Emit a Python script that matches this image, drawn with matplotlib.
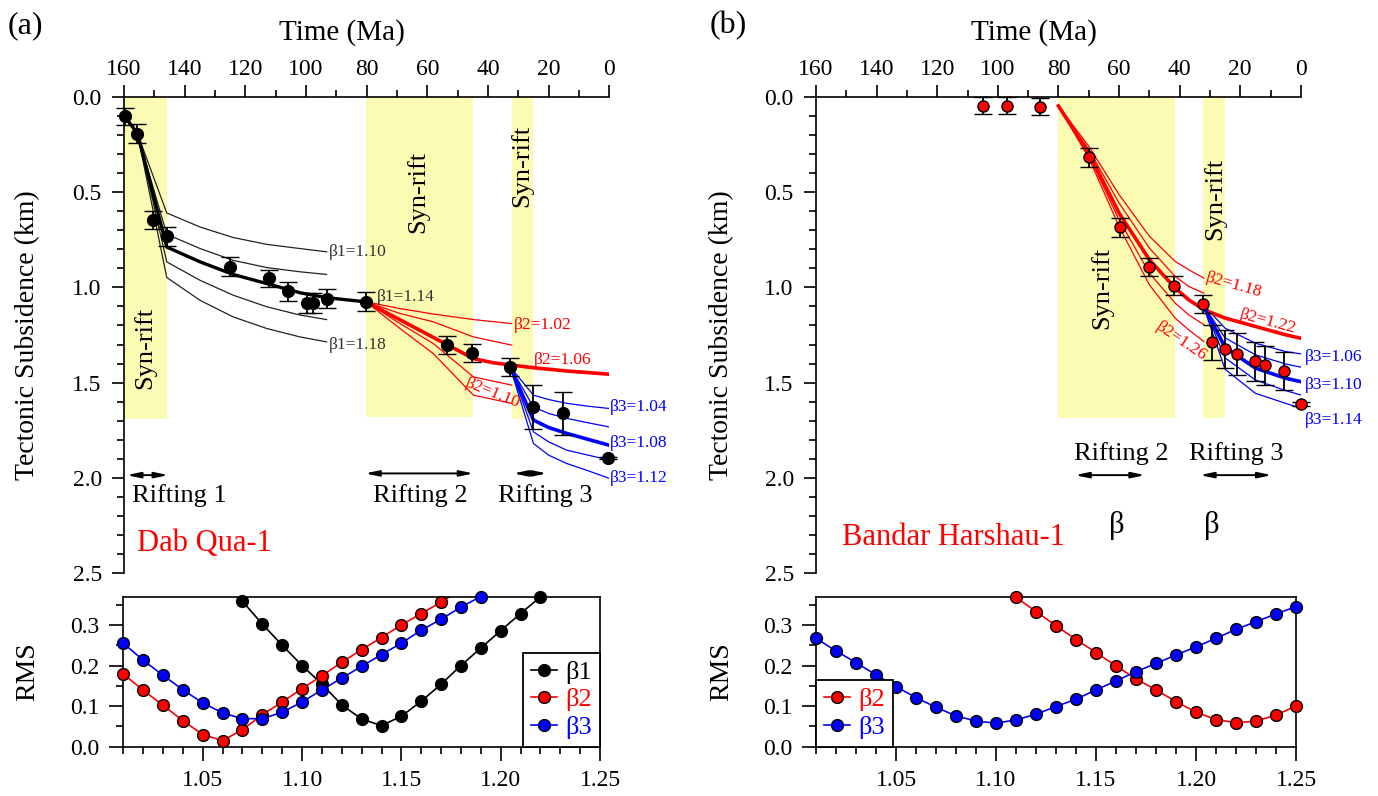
import matplotlib
matplotlib.use('Agg')
import matplotlib.pyplot as plt
from matplotlib.ticker import MultipleLocator, FormatStrFormatter
import numpy as np

plt.rcParams['font.family'] = ['Liberation Serif', 'DejaVu Serif']

W, H = 1378, 796
fig = plt.figure(figsize=(W / 100, H / 100), dpi=100)


def rect(l, r, t, b):
    return [l / W, 1 - b / H, (r - l) / W, (b - t) / H]


YEL = '#FBFBB4'
RED = '#FF0000'
BLUE = '#0000FF'
GREY = '#333333'

# ------------------------------------------------------------------ data (a)
a_obs_t = [159.8, 155.6, 150.3, 145.9, 125.1, 112.1, 106.0, 99.8, 97.6, 93.2, 80.2,
           53.6, 45.4, 32.7, 25.0, 15.2, 0.3]
a_obs_d = [0.102, 0.193, 0.647, 0.731, 0.892, 0.953, 1.021, 1.081, 1.081, 1.059, 1.076,
           1.303, 1.344, 1.417, 1.628, 1.662, 1.898]
a_obs_e = [0.045, 0.05, 0.048, 0.05, 0.05, 0.045, 0.048, 0.052, 0.052, 0.048, 0.05,
           0.048, 0.048, 0.048, 0.117, 0.115, 0.005]

a_b1_t = [159.8, 155.6, 145.9, 134.9, 124.0, 112.9, 102.0, 93.2]
a_b1_110 = [0.102, 0.19, 0.609, 0.683, 0.738, 0.774, 0.796, 0.813]
a_b1_112 = [0.102, 0.19, 0.721, 0.796, 0.858, 0.896, 0.918, 0.932]
a_b1_116 = [0.102, 0.19, 0.866, 0.963, 1.041, 1.102, 1.145, 1.169]
a_b1_118 = [0.102, 0.19, 0.948, 1.068, 1.155, 1.216, 1.260, 1.286]
a_b1_best_t = [159.8, 155.6, 145.9, 134.9, 124.0, 112.9, 102.0, 93.2, 80.2]
a_b1_114 = [0.102, 0.19, 0.788, 0.866, 0.932, 0.980, 1.028, 1.054, 1.076]

a_b2_t = [80.2, 69.0, 58.0, 44.8, 32.2]
a_b2_102 = [1.076, 1.111, 1.140, 1.169, 1.190]
a_b2_104 = [1.076, 1.137, 1.181, 1.260, 1.303]
a_b2_108 = [1.076, 1.190, 1.295, 1.470, 1.513]
a_b2_110 = [1.076, 1.216, 1.348, 1.566, 1.609]
a_b2_best_t = [80.2, 69.0, 58.0, 52.5, 44.8, 38.2, 32.2, 25.0, 14.0, 0.0]
a_b2_106 = [1.076, 1.170, 1.263, 1.309, 1.374, 1.396, 1.408, 1.422, 1.439, 1.456]

a_b3_t = [32.7, 25.0, 20.0, 14.0, 7.0, 0.0]
a_b3_104 = [1.417, 1.566, 1.589, 1.609, 1.624, 1.636]
a_b3_106 = [1.417, 1.628, 1.662, 1.688, 1.711, 1.733]
a_b3_108 = [1.417, 1.697, 1.736, 1.767, 1.798, 1.829]
a_b3_110 = [1.417, 1.759, 1.811, 1.855, 1.881, 1.907]
a_b3_112 = [1.417, 1.820, 1.881, 1.925, 1.963, 2.003]

a_syn_start = [160.0, 80.2, 32.2]
a_syn_end = [145.9, 44.8, 25.0]
a_syn_bottom = [1.69, 1.68, 1.69]

# RMS (a)
a_rms_x1 = [1.07, 1.08, 1.09, 1.10, 1.11, 1.12, 1.13, 1.14, 1.15, 1.16, 1.17, 1.18,
            1.19, 1.20, 1.21, 1.22]
a_rms_b1 = [0.358, 0.302, 0.250, 0.200, 0.154, 0.103, 0.068, 0.052, 0.075, 0.112,
            0.154, 0.200, 0.243, 0.286, 0.328, 0.369]
a_rms_x2 = [1.01, 1.02, 1.03, 1.04, 1.05, 1.06, 1.07, 1.08, 1.09, 1.10, 1.11, 1.12,
            1.13, 1.14, 1.15, 1.16, 1.17, 1.18]
a_rms_b2 = [0.179, 0.139, 0.102, 0.064, 0.030, 0.015, 0.042, 0.079, 0.110, 0.143,
            0.175, 0.208, 0.239, 0.269, 0.300, 0.328, 0.356, 0.387]
a_rms_x3 = [1.01, 1.02, 1.03, 1.04, 1.05, 1.06, 1.07, 1.08, 1.09, 1.10, 1.11, 1.12,
            1.13, 1.14, 1.15, 1.16, 1.17, 1.18, 1.19]
a_rms_b3 = [0.255, 0.213, 0.176, 0.140, 0.108, 0.083, 0.069, 0.069, 0.085, 0.110,
            0.140, 0.169, 0.198, 0.227, 0.255, 0.287, 0.314, 0.344, 0.370]

# ------------------------------------------------------------------ data (b)
b_obs_t = [105.0, 96.9, 86.1, 69.8, 59.8, 50.0, 42.0, 32.4, 29.4, 25.0, 20.9, 15.1,
           11.8, 5.5, 0.0]
b_obs_d = [0.045, 0.045, 0.05, 0.316, 0.684, 0.893, 0.991, 1.087, 1.289, 1.324, 1.350,
           1.389, 1.410, 1.437, 1.612]
b_obs_e = [0.045, 0.045, 0.045, 0.05, 0.05, 0.048, 0.05, 0.048, 0.09, 0.10, 0.11, 0.10,
           0.10, 0.10, 0.01]

b_b2_t = [80.0, 70.0, 60.0, 50.0, 41.5, 37.0, 32.0]
b_b2_118 = [0.047, 0.258, 0.512, 0.731, 0.863, 0.907, 0.951]
b_b2_120 = [0.047, 0.275, 0.556, 0.793, 0.942, 0.995, 1.030]
b_b2_124 = [0.047, 0.307, 0.644, 0.924, 1.082, 1.144, 1.196]
b_b2_126 = [0.047, 0.319, 0.679, 0.986, 1.161, 1.223, 1.284]
b_b2_best_t = [80.0, 70.0, 60.0, 50.0, 41.5, 37.0, 32.0, 25.0, 15.0, 5.0, 0.0]
b_b2_122 = [0.047, 0.293, 0.609, 0.854, 1.003, 1.065, 1.117, 1.161, 1.205, 1.249, 1.267]

b_b3_t = [32.4, 25.0, 15.0, 5.0, 0.0]
b_b3_106 = [1.087, 1.214, 1.293, 1.337, 1.349]
b_b3_108 = [1.087, 1.265, 1.354, 1.402, 1.419]
b_b3_110 = [1.087, 1.315, 1.424, 1.477, 1.495]
b_b3_112 = [1.087, 1.370, 1.486, 1.542, 1.565]
b_b3_114 = [1.087, 1.430, 1.556, 1.609, 1.635]

b_syn_start = [80.0, 32.2]
b_syn_end = [41.5, 25.0]
b_syn_bottom = [1.688, 1.688]

# RMS (b)
b_rms_x2 = [1.10, 1.11, 1.12, 1.13, 1.14, 1.15, 1.16, 1.17, 1.18, 1.19, 1.20, 1.21,
            1.22, 1.23, 1.24, 1.25]
b_rms_b2 = [0.400, 0.368, 0.333, 0.298, 0.264, 0.232, 0.199, 0.167, 0.140, 0.111,
            0.085, 0.067, 0.059, 0.063, 0.078, 0.100]
b_rms_x3 = [1.01, 1.02, 1.03, 1.04, 1.05, 1.06, 1.07, 1.08, 1.09, 1.10, 1.11, 1.12,
            1.13, 1.14, 1.15, 1.16, 1.17, 1.18, 1.19, 1.20, 1.21, 1.22, 1.23, 1.24, 1.25]
b_rms_b3 = [0.267, 0.236, 0.207, 0.177, 0.148, 0.121, 0.097, 0.076, 0.063, 0.058,
            0.066, 0.080, 0.099, 0.117, 0.140, 0.162, 0.185, 0.205, 0.226, 0.246,
            0.267, 0.289, 0.308, 0.327, 0.345]

RMS_TOP = 0.37

# ------------------------------------------------------------------ helpers
TICK_FS = 17
LW_SP = 1.2


def style_top(ax):
    ax.set_xlim(160, 0)
    ax.set_ylim(2.5, 0)
    ax.spines['right'].set_visible(False)
    ax.spines['bottom'].set_visible(False)
    for s in ['top', 'left']:
        ax.spines[s].set_linewidth(LW_SP)
    ax.xaxis.tick_top()
    ax.xaxis.set_major_locator(MultipleLocator(20))
    ax.xaxis.set_minor_locator(MultipleLocator(10))
    ax.xaxis.set_major_formatter(FormatStrFormatter('%d'))
    ax.yaxis.set_major_locator(MultipleLocator(0.5))
    ax.yaxis.set_minor_locator(MultipleLocator(0.1))
    ax.yaxis.set_major_formatter(FormatStrFormatter('%.1f'))
    ax.tick_params(which='major', direction='out', length=9, width=LW_SP, labelsize=TICK_FS)
    ax.tick_params(which='minor', direction='out', length=5, width=LW_SP)
    ax.tick_params(axis='x', which='both', top=True, bottom=False, labeltop=True,
                   labelbottom=False, pad=3)
    ax.tick_params(axis='y', which='both', left=True, right=False, pad=7)
    ax.patch.set_alpha(0)


def style_bot(ax):
    ax.set_xlim(1.01, 1.25)
    ax.set_ylim(0, RMS_TOP)
    for s in ax.spines.values():
        s.set_linewidth(LW_SP)
    ax.xaxis.set_major_locator(MultipleLocator(0.05))
    ax.xaxis.set_minor_locator(MultipleLocator(0.01))
    ax.xaxis.set_major_formatter(FormatStrFormatter('%.2f'))
    ax.yaxis.set_major_locator(MultipleLocator(0.1))
    ax.yaxis.set_minor_locator(MultipleLocator(0.05))
    ax.yaxis.set_major_formatter(FormatStrFormatter('%.1f'))
    ax.tick_params(which='major', direction='out', length=10, width=LW_SP,
                   labelsize=TICK_FS, pad=7)
    ax.tick_params(which='minor', direction='out', length=5, width=LW_SP)
    ax.tick_params(top=False, right=False, which='both')


def syn_boxes(ax, starts, ends, bottoms):
    for s, e, b in zip(starts, ends, bottoms):
        ax.fill_between([s, e], [0, 0], [b, b], color=YEL, lw=0, zorder=0)


def arrow(ax, t0, t1, y):
    ax.annotate('', xy=(t1, y), xytext=(t0, y),
                arrowprops=dict(arrowstyle='<|-|>,head_length=0.8,head_width=0.17',
                                color='black', lw=1.4, shrinkA=0, shrinkB=0))


def rms_series(ax, x, y, color, label):
    x = np.asarray(x)
    y = np.asarray(y)
    ax.plot(x, y, '-', color=color, lw=1.2, zorder=2)
    m = y <= RMS_TOP + 0.001
    ax.plot(x[m], y[m], 'o', ms=8.5, mfc=color, mec='black', mew=1.0, zorder=3,
            clip_on=False)
    ax.plot([], [], '-o', color=color, lw=1.2, ms=8.5, mfc=color, mec='black',
            mew=1.0, label=label)


def obs(ax, t, d, e, fc, ms):
    ax.errorbar(t, d, yerr=e, fmt='o', ms=ms, mfc=fc, mec='black', mew=1.0,
                ecolor='black', elinewidth=1.3, capsize=6.5, capthick=1.3,
                zorder=6, clip_on=False)


LAB_FS = 12.5
# ------------------------------------------------------------------ panel (a) top
axA = fig.add_axes(rect(124, 609.3, 97, 573))
style_top(axA)
syn_boxes(axA, a_syn_start, a_syn_end, a_syn_bottom)
for curve in [a_b1_110, a_b1_112, a_b1_116, a_b1_118]:
    axA.plot(a_b1_t, curve, color='#222222', lw=0.9, zorder=2)
axA.plot(a_b1_best_t, a_b1_114, color='black', lw=2.4, zorder=3)
for curve in [a_b2_102, a_b2_104, a_b2_108, a_b2_110]:
    axA.plot(a_b2_t, curve, color=RED, lw=0.9, zorder=2)
axA.plot(a_b2_best_t, a_b2_106, color=RED, lw=2.6, zorder=3)
for curve in [a_b3_104, a_b3_106, a_b3_110, a_b3_112]:
    axA.plot(a_b3_t, curve, color=BLUE, lw=0.9, zorder=2)
axA.plot(a_b3_t, a_b3_108, color=BLUE, lw=2.6, zorder=3)
obs(axA, a_obs_t, a_obs_d, a_obs_e, 'black', 8.5)

axA.text(92.6, 0.814, 'β1=1.10', color=GREY, fontsize=LAB_FS, va='center', ha='left')
axA.text(76.7, 1.05, 'β1=1.14', color=GREY, fontsize=LAB_FS, va='center', ha='left')
axA.text(92.6, 1.303, 'β1=1.18', color=GREY, fontsize=LAB_FS, va='center', ha='left')
axA.text(31.6, 1.195, 'β2=1.02', color=RED, fontsize=LAB_FS, va='center', ha='left')
axA.text(25.0, 1.382, 'β2=1.06', color=RED, fontsize=LAB_FS, va='center', ha='left')
axA.text(38.5, 1.557, 'β2=1.10', color=RED, fontsize=LAB_FS, va='center', ha='center',
         rotation=-22, rotation_mode='anchor')
axA.text(-0.3, 1.627, 'β3=1.04', color=BLUE, fontsize=LAB_FS, va='center', ha='left')
axA.text(-0.3, 1.819, 'β3=1.08', color=BLUE, fontsize=LAB_FS, va='center', ha='left')
axA.text(-0.3, 2.003, 'β3=1.12', color=BLUE, fontsize=LAB_FS, va='center', ha='left')

axA.text(153.1, 1.319, 'Syn-rift', rotation=90, fontsize=19, ha='center', va='center')
axA.text(63.1, 0.50, 'Syn-rift', rotation=90, fontsize=19, ha='center', va='center')
axA.text(28.8, 0.36, 'Syn-rift', rotation=90, fontsize=19, ha='center', va='center')

arrow(axA, 159.1, 145.4, 1.986)
arrow(axA, 80.5, 44.8, 1.977)
arrow(axA, 31.6, 20.6, 1.977)
axA.text(157.5, 2.091, 'Rifting 1', fontsize=19, ha='left', va='center')
axA.text(62.4, 2.091, 'Rifting 2', fontsize=19, ha='center', va='center')
axA.text(21.2, 2.091, 'Rifting 3', fontsize=19, ha='center', va='center')
axA.text(155.8, 2.345, 'Dab Qua-1', fontsize=22, color=RED, ha='left', va='center')

# ------------------------------------------------------------------ panel (a) RMS
axAr = fig.add_axes(rect(123.3, 600, 596.5, 746.7))
style_bot(axAr)
rms_series(axAr, a_rms_x1, a_rms_b1, 'black', 'β1')
rms_series(axAr, a_rms_x2, a_rms_b2, RED, 'β2')
rms_series(axAr, a_rms_x3, a_rms_b3, BLUE, 'β3')
legA = axAr.legend(loc='lower right', borderaxespad=0, fontsize=19, handlelength=1.0,
                   handletextpad=0.3, borderpad=0.3, labelspacing=0.15, fancybox=False,
                   edgecolor='black', framealpha=1, numpoints=1)
legA.get_frame().set_linewidth(1.3)
for txt, c in zip(legA.get_texts(), ['black', RED, BLUE]):
    txt.set_color(c)
legA.set_zorder(10)

# ------------------------------------------------------------------ panel (b) top
axB = fig.add_axes(rect(816, 1300.8, 97, 573))
style_top(axB)
syn_boxes(axB, b_syn_start, b_syn_end, b_syn_bottom)
for curve in [b_b2_118, b_b2_120, b_b2_124, b_b2_126]:
    axB.plot(b_b2_t, curve, color=RED, lw=0.9, zorder=2)
axB.plot(b_b2_best_t, b_b2_122, color=RED, lw=2.6, zorder=3)
for curve in [b_b3_106, b_b3_108, b_b3_112, b_b3_114]:
    axB.plot(b_b3_t, curve, color=BLUE, lw=0.9, zorder=2)
axB.plot(b_b3_t, b_b3_110, color=BLUE, lw=2.6, zorder=3)
obs(axB, b_obs_t, b_obs_d, b_obs_e, RED, 8.0)

axB.text(22.0, 0.987, 'β2=1.18', color=RED, fontsize=LAB_FS, ha='center', va='center',
         rotation=-16)
axB.text(11.0, 1.182, 'β2=1.22', color=RED, fontsize=LAB_FS, ha='center', va='center',
         rotation=-15)
axB.text(39.3, 1.284, 'β2=1.26', color=RED, fontsize=LAB_FS, ha='center', va='center',
         rotation=-34)
axB.text(-1.4, 1.364, 'β3=1.06', color=BLUE, fontsize=LAB_FS, ha='left', va='center')
axB.text(-1.4, 1.513, 'β3=1.10', color=BLUE, fontsize=LAB_FS, ha='left', va='center')
axB.text(-1.4, 1.697, 'β3=1.14', color=BLUE, fontsize=LAB_FS, ha='left', va='center')

axB.text(65.7, 1.003, 'Syn-rift', rotation=90, fontsize=19, ha='center', va='center')
axB.text(28.3, 0.538, 'Syn-rift', rotation=90, fontsize=19, ha='center', va='center')

axB.text(59.1, 1.872, 'Rifting 2', fontsize=19, ha='center', va='center')
axB.text(21.2, 1.872, 'Rifting 3', fontsize=19, ha='center', va='center')
arrow(axB, 74.5, 51.4, 1.986)
arrow(axB, 33.3, 9.6, 1.986)
axB.text(60.8, 2.249, 'β', fontsize=22, ha='center', va='center')
axB.text(29.4, 2.249, 'β', fontsize=22, ha='center', va='center')
axB.text(77.8, 2.316, 'Bandar Harshau-1', fontsize=22, color=RED, ha='right',
         va='center')

# ------------------------------------------------------------------ panel (b) RMS
axBr = fig.add_axes(rect(816, 1296, 596.5, 746.7))
style_bot(axBr)
rms_series(axBr, b_rms_x2, b_rms_b2, RED, 'β2')
rms_series(axBr, b_rms_x3, b_rms_b3, BLUE, 'β3')
legB = axBr.legend(loc='lower left', borderaxespad=0, fontsize=19, handlelength=1.0,
                   handletextpad=0.3, borderpad=0.3, labelspacing=0.15, fancybox=False,
                   edgecolor='black', framealpha=1, numpoints=1)
legB.get_frame().set_linewidth(1.3)
for txt, c in zip(legB.get_texts(), [RED, BLUE]):
    txt.set_color(c)
legB.set_zorder(10)

# ------------------------------------------------------------------ figure texts
def ftext(x, y, s, **kw):
    fig.text(x / W, 1 - y / H, s, **kw)


ftext(8, 26, '(a)', fontsize=23, ha='left', va='center')
ftext(710, 26, '(b)', fontsize=23, ha='left', va='center')
ftext(342, 33, 'Time (Ma)', fontsize=21, ha='center', va='center')
ftext(1034, 33, 'Time (Ma)', fontsize=21, ha='center', va='center')
ftext(28, 335, 'Tectonic Subsidence (km)', fontsize=20, ha='center', va='center',
      rotation=90)
ftext(722, 335, 'Tectonic Subsidence (km)', fontsize=20, ha='center', va='center',
      rotation=90)
ftext(28, 672, 'RMS', fontsize=20, ha='center', va='center', rotation=90)
ftext(722, 672, 'RMS', fontsize=20, ha='center', va='center', rotation=90)

fig.savefig('out.png', dpi=100, facecolor='white')
